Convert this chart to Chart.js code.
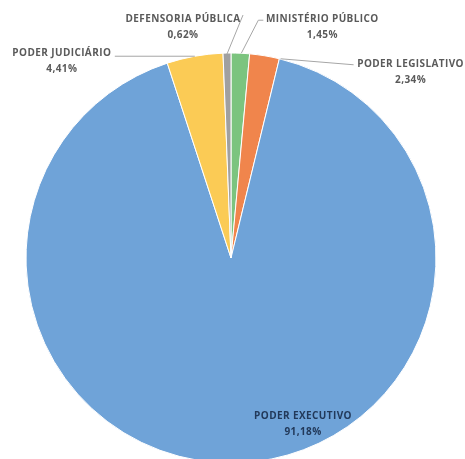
<!DOCTYPE html>
<html>
<head>
<meta charset="utf-8">
<script src="https://cdn.jsdelivr.net/npm/chart.js@4"></script>
<style>
  html, body { margin: 0; padding: 0; background: #fff; }
  #wrap { width: 465px; height: 459px; }
</style>
</head>
<body>
<div id="wrap"><canvas id="grafico"></canvas></div>
<script>
// dados (ordem horária a partir das 12h)
const categorias = ["MINISTÉRIO PÚBLICO", "PODER LEGISLATIVO", "PODER EXECUTIVO", "PODER JUDICIÁRIO", "DEFENSORIA PÚBLICA"];
const valores = [1.45, 2.34, 91.18, 4.41, 0.62];
const rotulos = ["1,45%", "2,34%", "91,18%", "4,41%", "0,62%"];
const cores = ["#7cc47f", "#f0854c", "#6fa3d8", "#fbcb55", "#a0a0a0"];

// posição dos rótulos: deslocamento a partir do ponto médio do arco externo
// (interno = deslocamento a partir do centro)
const posRotulos = [
  { dx: 82, dy: -26, linha: [[1, 0], [18, -33], [23, -33]] },
  { dx: 146, dy: 16, linha: [[16, 3], [89, 9]] },
  { interno: true, dx: 72, dy: 166 },
  { dx: -133, dy: 5, linha: [[0, 0], [-80, 0]] },
  { dx: -44, dy: -26, linha: [[0, 1], [16, -38]] }
];

const pluginRotulos = {
  id: "rotulos",
  afterDatasetsDraw(chart) {
    const ctx = chart.ctx;
    const arcos = chart.getDatasetMeta(0).data;
    ctx.save();
    ctx.font = "bold 10px 'Open Sans', sans-serif";
    ctx.letterSpacing = "0.4px";
    ctx.textAlign = "center";
    ctx.textBaseline = "middle";
    arcos.forEach((arco, i) => {
      const { x, y, startAngle, endAngle, outerRadius } = arco.getProps(["x", "y", "startAngle", "endAngle", "outerRadius"], true);
      const meio = (startAngle + endAngle) / 2;
      const pos = posRotulos[i];
      if (pos.interno) {
        ctx.fillStyle = "#22395a";
        ctx.fillText(categorias[i], x + pos.dx, y + pos.dy - 8);
        ctx.fillText(rotulos[i], x + pos.dx, y + pos.dy + 8);
        return;
      }
      const px = x + Math.cos(meio) * outerRadius;
      const py = y + Math.sin(meio) * outerRadius;
      ctx.strokeStyle = "#a6a6a6";
      ctx.lineWidth = 1;
      ctx.beginPath();
      pos.linha.forEach((p, k) => {
        if (k === 0) ctx.moveTo(px + p[0], py + p[1]);
        else ctx.lineTo(px + p[0], py + p[1]);
      });
      ctx.stroke();
      ctx.fillStyle = "#5a5a5a";
      ctx.fillText(categorias[i], px + pos.dx, py + pos.dy - 8);
      ctx.fillText(rotulos[i], px + pos.dx, py + pos.dy + 8);
    });
    ctx.restore();
  }
};

new Chart(document.getElementById("grafico"), {
  type: "pie",
  data: {
    labels: categorias,
    datasets: [{
      data: valores,
      backgroundColor: cores,
      borderColor: "#ffffff",
      borderWidth: 1,
      radius: 205
    }]
  },
  options: {
    responsive: true,
    maintainAspectRatio: false,
    animation: false,
    layout: { padding: { top: 57, bottom: 0, left: 0, right: 3 } },
    plugins: {
      legend: { display: false },
      tooltip: { enabled: false }
    }
  },
  plugins: [pluginRotulos]
});
</script>
</body>
</html>
